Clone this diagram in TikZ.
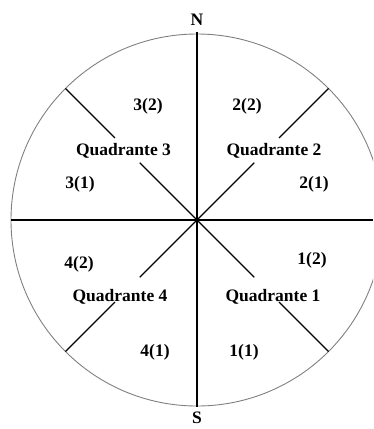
\documentclass[tikz,border=0pt]{standalone}
\usepackage{fontspec}
\setmainfont{Liberation Serif}
\definecolor{RimGray}{RGB}{128,128,128}
\tikzset{
  rim/.style={draw=RimGray,line width=0.9pt},
  axis/.style={draw=black,line width=1.3pt},
  ray/.style={draw=black,line width=1.1pt},
  lbl/.style={font=\fontsize{17.5}{20}\selectfont\bfseries,inner sep=0pt}
}

\begin{document}
\begin{tikzpicture}[x=1pt,y=-1pt]
  \useasboundingbox (0,0) rectangle (373,429);
  \clip (0,0) rectangle (373,429);
  \coordinate (O) at (197,220);
  \draw[rim] (O) circle (186);
  % axes
  \coordinate (west) at (11,220);
  \coordinate (east) at (373,220);
  \coordinate (north) at (197,32);
  \coordinate (south) at (197,407);
  \draw[axis] (west) -- (east);
  \draw[axis] (north) -- (south);
  % diagonal rays, broken by the labels
  \foreach \a/\n in {45/ne,135/nw,225/sw,315/se}{
    \coordinate (\n-a) at ([shift={(\a:81)}]O);
    \coordinate (\n-b) at ([shift={(\a:116)}]O);
    \coordinate (\n-c) at ([shift={(\a:186)}]O);
    \draw[ray] (O) -- (\n-a);
    \draw[ray] (\n-b) -- (\n-c);
  }
  % labels
  \node[lbl] (N) at (197,20) {N};
  \node[lbl] (S) at (197,418) {S};
  \node[lbl] (q1) at (273,297) {Quadrante 1};
  \node[lbl] (q2) at (274,151) {Quadrante 2};
  \node[lbl] (q3) at (123.5,151) {Quadrante 3};
  \node[lbl] (q4) at (120,297) {Quadrante 4};
  \node[lbl] (s11) at (244,352) {1(1)};
  \node[lbl] (s12) at (312,260) {1(2)};
  \node[lbl] (s21) at (314,184) {2(1)};
  \node[lbl] (s22) at (247,106) {2(2)};
  \node[lbl] (s31) at (80,184) {3(1)};
  \node[lbl] (s32) at (148,106) {3(2)};
  \node[lbl] (s41) at (155,352) {4(1)};
  \node[lbl] (s42) at (79,264) {4(2)};
\end{tikzpicture}
\end{document}
